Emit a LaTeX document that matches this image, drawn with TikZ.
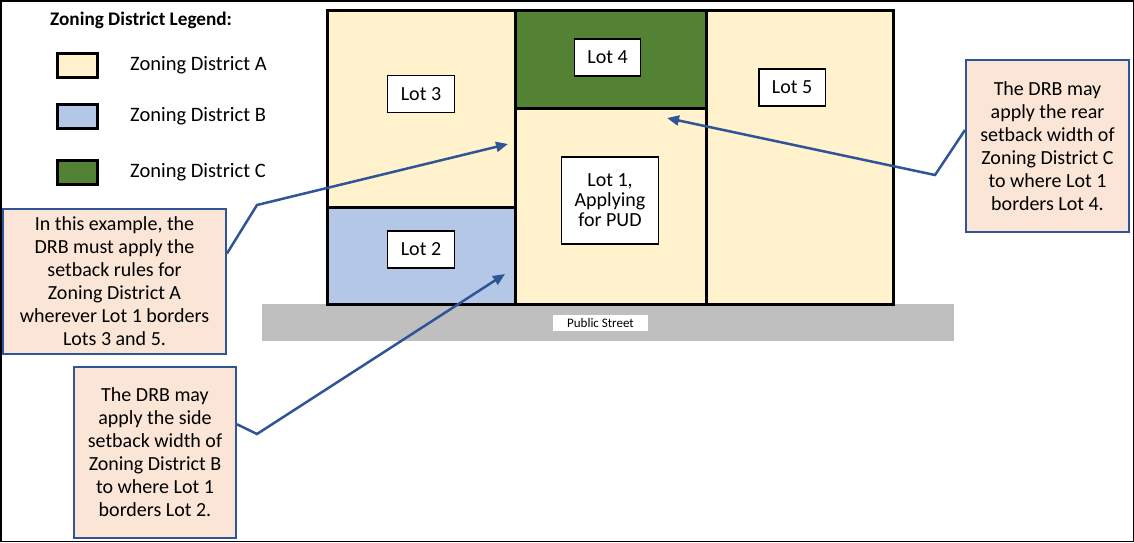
\documentclass[tikz,border=0pt]{standalone}
\usepackage{fontspec}
\setmainfont{Carlito}
\usetikzlibrary{arrows.meta,positioning}
\definecolor{zoneA}{HTML}{FFF2CC}
\definecolor{zoneB}{HTML}{B4C7E7}
\definecolor{zoneC}{HTML}{548235}
\definecolor{notefill}{HTML}{FBE5D6}
\definecolor{noteline}{HTML}{2F5597}
\definecolor{street}{HTML}{BFBFBF}

\begin{document}
\begin{tikzpicture}[
  x=1pt,y=-1pt,
  lot/.style={draw,line width=3pt},
  swatch/.style={draw,line width=3pt,minimum width=40pt,minimum height=24pt,inner sep=0pt},
  legend label/.style={anchor=west,inner sep=0pt,font=\fontsize{20.5}{23}\selectfont},
  tag/.style={draw,fill=white,line width=1.3pt,align=center,minimum height=37pt,inner xsep=13pt,inner ysep=3pt,font=\fontsize{20}{20}\selectfont},
  note/.style={draw=noteline,fill=notefill,line width=2pt,align=center,inner sep=0pt,font=\fontsize{20}{23}\selectfont},
  pointer/.style={-{Triangle[length=12pt,width=10pt]},line width=2.5pt,noteline}
]
\useasboundingbox (0,0) rectangle (1134,542);
\draw[line width=1.5pt] (0.75,0.75) rectangle (1133.25,541.25);

% legend
\node[anchor=west,inner sep=0pt,font=\fontsize{19.2}{21}\selectfont\bfseries] (legend) at (50,20) {Zoning District Legend:};
\node[swatch,fill=zoneA] (swA) at (77.5,65.5) {};
\node[swatch,fill=zoneB] (swB) at (77.5,116.5) {};
\node[swatch,fill=zoneC] (swC) at (77.5,172) {};
\node[legend label] (labA) at (130,65.5) {Zoning District A};
\node[legend label] (labB) at (130,116.5) {Zoning District B};
\node[legend label] (labC) at (130,172) {Zoning District C};

% street and lots
\fill[street] (262,304) rectangle (954,341);
\node[fill=white,inner sep=0pt,minimum width=95pt,minimum height=16pt,font=\fontsize{13}{14}\selectfont] (street) at (600.5,323) {Public Street};
\draw[lot,fill=zoneA] (327,10) rectangle (515,207);
\draw[lot,fill=zoneB] (327,207) rectangle (515,304);
\draw[lot,fill=zoneC] (515,10) rectangle (706,108);
\draw[lot,fill=zoneA] (515,108) rectangle (706,304);
\draw[lot,fill=zoneA] (706,10) rectangle (893,304);

\node[tag] (lot3) at (421,94) {Lot 3};
\node[tag] (lot4) at (607.5,57.5) {Lot 4};
\node[tag] (lot5) at (792,87.5) {Lot 5};
\node[tag,minimum height=87pt] (lot1) at (610,200.5) {Lot 1,\\Applying\\for PUD};
\node[tag] (lot2) at (421,249.5) {Lot 2};

% callouts
\node[note,minimum width=223pt,minimum height=145pt] (noteA) at (114.5,281.5)
  {In this example, the\\DRB must apply the\\setback rules for\\Zoning District A\\wherever Lot 1 borders\\Lots 3 and 5.};
\node[note,minimum width=162pt,minimum height=171pt] (noteB) at (155,452.5)
  {The DRB may\\apply the side\\setback width of\\Zoning District B\\to where Lot 1\\borders Lot 2.};
\node[note,minimum width=163pt,minimum height=172pt] (noteC) at (1047.5,146)
  {The DRB may\\apply the rear\\setback width of\\Zoning District C\\to where Lot 1\\borders Lot 4.};

\coordinate (bendA) at (257,205);
\coordinate (tipA) at (508,144);
\coordinate (bendB) at (257,434);
\coordinate (tipB) at (505,274);
\coordinate (bendC) at (935,175);
\coordinate (tipC) at (667,118);
\draw[pointer] (noteA.14) -- (bendA) -- (tipA);
\draw[pointer] (noteB.19) -- (bendB) -- (tipB);
\draw[pointer] (noteC.169) -- (bendC) -- (tipC);
\end{tikzpicture}
\end{document}
